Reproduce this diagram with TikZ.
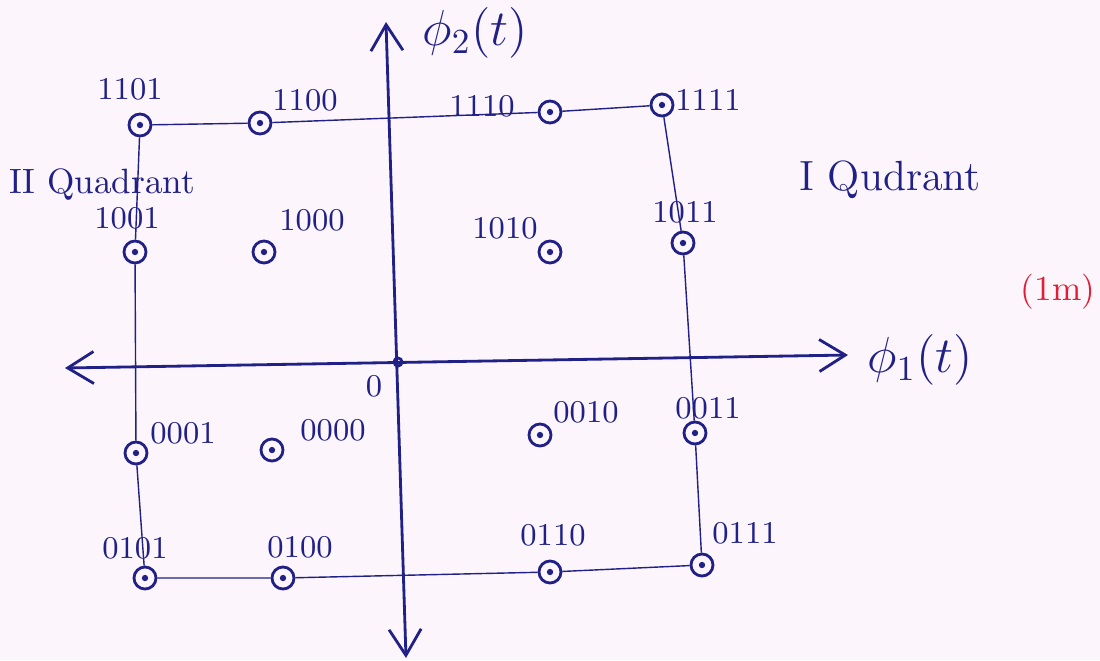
\documentclass[tikz,border=0pt]{standalone}
\usepackage{amsmath,amssymb}
\usepackage{tikz}
\usetikzlibrary{arrows.meta,positioning}
\definecolor{ink}{RGB}{32,32,135}
\definecolor{paper}{RGB}{252,245,251}
\definecolor{mark}{RGB}{225,30,55}
\tikzset{
  sym/.style   = {circle, draw=ink, thick, inner sep=0pt, minimum size=0.22cm,
                  path picture={\fill[ink] (path picture bounding box.center) circle (0.9pt);}},
  bits/.style  = {text=ink, font=\small, inner sep=1pt},
  wire/.style  = {ink, thin},
  axis/.style  = {{Straight Barb[length=2.6mm,width=3.2mm]}-{Straight Barb[length=2.6mm,width=3.2mm]},
                  thick, ink},
  orig/.style  = {circle, draw=ink, thick, inner sep=0pt, minimum size=0.08cm},
}

\begin{document}
\begin{tikzpicture}[x=0.01cm,y=-0.01cm]
  \useasboundingbox[fill=paper] (0,0) rectangle (1100,660);
  % axes
  \node[orig] (o) at (398,362) {};
  \coordinate (xl) at (65,368);
  \coordinate (xr) at (848,355);
  \coordinate (yt) at (386,22);
  \coordinate (yb) at (406,658);
  \draw[axis] (xl) -- (xr);
  \draw[axis] (yb) -- (yt);
  \node[text=ink,font=\Large] (f2) at (475,33) {$\phi_2(t)$};
  \node[text=ink,font=\Large] (f1) at (920,360) {$\phi_1(t)$};
  \node[text=ink,font=\small] (zero) at (374,386) {0};
  % constellation points
  \foreach \nm/\px/\py/\lx/\ly in {
      1101/140/125/130/89,  1100/260/123/305/100, 1110/550/112/482/106, 1111/662/105/708/100,
      1001/135/252/127/218, 1000/264/252/312/220, 1010/550/252/505/228, 1011/683/243/685/212,
      0001/136/453/183/433, 0000/272/450/333/430, 0010/540/435/586/412, 0011/695/433/708/408,
      0101/145/578/135/548, 0100/283/578/300/547, 0110/550/572/553/535, 0111/702/565/745/533}
  {
    \node[sym] (p\nm) at (\px,\py) {};
    \node[bits] (l\nm) at (\lx,\ly) {\nm};
  }
  % outer boundary
  \draw[wire] (p1101) -- (p1100) -- (p1110) -- (p1111) -- (p1011) -- (p0011) -- (p0111)
              -- (p0110) -- (p0100) -- (p0101) -- (p0001) -- (p1001) -- (p1101);
  \node[text=ink] (q2) at (102,185) {II Quadrant};
  \node[text=ink,font=\large] (q1) at (890,180) {I Qudrant};
  \node[text=mark] (mk) at (1058,292) {(1m)};
\end{tikzpicture}
\end{document}
